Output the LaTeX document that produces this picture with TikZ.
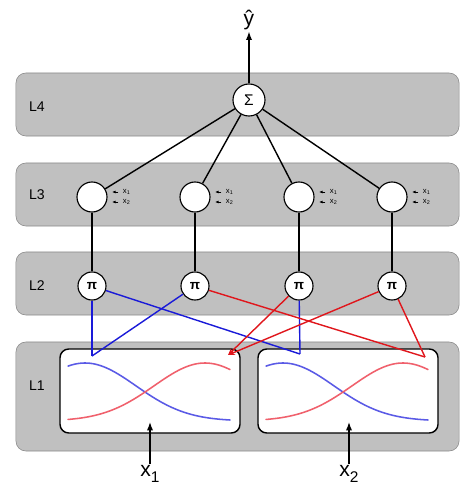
\documentclass[tikz,border=0pt]{standalone}
\usepackage{fontspec}
\setmainfont{Liberation Sans}
\usetikzlibrary{arrows.meta}
\definecolor{layergray}{HTML}{C0C0C0}
\definecolor{layeredge}{HTML}{8A8A8A}
\definecolor{cblue}{HTML}{1A1AD8}
\definecolor{cred}{HTML}{E0161C}
\definecolor{fblue}{HTML}{5A5AE6}
\definecolor{fred}{HTML}{F0606C}
\newcommand{\lowsub}[1]{\raisebox{-0.55ex}{\fontsize{11}{12}\selectfont #1}}

\begin{document}
\begin{tikzpicture}[x=0.025cm, y=-0.025cm,
  layer/.style={draw=layeredge, fill=layergray, rounded corners=0.25cm,
                minimum width=11.075cm, minimum height=1.575cm},
  lname/.style={font=\fontsize{10}{12}\selectfont},
  fuzzbox/.style={draw, line width=1pt, fill=white, rounded corners=0.22cm,
                  minimum width=4.5cm, minimum height=2.1cm},
  rulenode/.style={circle, draw, line width=0.8pt, fill=white, minimum size=0.75cm, inner sep=0pt},
  prodnode/.style={circle, draw, line width=0.8pt, fill=white, minimum size=0.7cm, inner sep=0pt,
                   font=\bfseries\fontsize{9.5}{10}\selectfont},
  tinyin/.style={font=\fontsize{5.5}{6}\selectfont, inner sep=0.5pt, anchor=west},
  wire/.style={line width=1pt},
  bwire/.style={line width=1pt, cblue},
  rwire/.style={line width=1pt, cred},
  arr/.style={-{Latex[length=6pt,width=4.5pt]}, line width=1pt},
  smallarr/.style={-{Latex[length=2.5pt,width=2pt]}, line width=0.5pt, shorten <=2.5pt}
]
  \useasboundingbox (0,0) rectangle (475,492);
  \fill[white] (0,0) rectangle (475,492);

  % Layers
  \node[layer] (l4) at (237.5,104.5) {};
  \node[layer] (l3) at (237.5,194.5) {};
  \node[layer] (l2) at (237.5,283.5) {};
  \node[layer, minimum height=2.725cm] (l1) at (237.5,396.5) {};
  \node[lname] (l4name) at (37,107) {L4};
  \node[lname] (l3name) at (37,195) {L3};
  \node[lname] (l2name) at (37,286) {L2};
  \node[lname] (l1name) at (37,386) {L1};

  % Membership functions
  \node[fuzzbox] (mf1) at (150,391) {};
  \node[fuzzbox] (mf2) at (348,391) {};
  \foreach \dx in {0,198} {
    \draw[fblue, line width=1.1pt, line cap=round]
      plot[domain=68:230, samples=60, smooth] ({\x+\dx}, {421-58*exp(-((\x-85)/72)^2)});
    \draw[fred, line width=1.1pt, line cap=round]
      plot[domain=68:230, samples=60, smooth] ({\x+\dx}, {421-58*exp(-((\x-205)/72)^2)});
  }
  \coordinate (b1) at (92,356);
  \coordinate (r1) at (228,355);
  \coordinate (b2) at (300,354);
  \coordinate (r2) at (425,357);

  % Rule and product nodes
  \node[rulenode] (c1) at (92,197) {};
  \node[rulenode] (c2) at (195,197) {};
  \node[rulenode] (c3) at (299,197) {};
  \node[rulenode] (c4) at (392,197) {};
  \node[prodnode] (p1) at (92,286) {π};
  \node[prodnode] (p2) at (195,286) {π};
  \node[prodnode] (p3) at (299,286) {π};
  \node[prodnode] (p4) at (392,286) {π};

  % Sum
  \node[circle, draw, line width=0.8pt, fill=white, minimum size=0.8cm, inner sep=0pt,
        font=\fontsize{11}{12}\selectfont] (sum) at (249,100) {Σ};
  \node[font=\fontsize{15}{17}\selectfont, inner sep=1pt] (yhat) at (249,20) {ŷ};

  % Inputs of the rule nodes
  \node[tinyin] (c1a) at (122,192) {x\textsubscript{1}};
  \node[tinyin] (c1b) at (122,202) {x\textsubscript{2}};
  \node[tinyin] (c2a) at (225,192) {x\textsubscript{1}};
  \node[tinyin] (c2b) at (225,202) {x\textsubscript{2}};
  \node[tinyin] (c3a) at (329,192) {x\textsubscript{1}};
  \node[tinyin] (c3b) at (329,202) {x\textsubscript{2}};
  \node[tinyin] (c4a) at (422,192) {x\textsubscript{1}};
  \node[tinyin] (c4b) at (422,202) {x\textsubscript{2}};
  \foreach \n in {c1a,c1b,c2a,c2b,c3a,c3b,c4a,c4b}
    \draw[smallarr] (\n.west) -- ++(-10,0);

  % Inputs
  \node[font=\fontsize{15}{18}\selectfont, inner sep=1pt] (x1) at (150,474) {x\lowsub{1}};
  \node[font=\fontsize{15}{18}\selectfont, inner sep=1pt] (x2) at (349,474) {x\lowsub{2}};
  \coordinate (in1) at (150,422);
  \coordinate (in2) at (349,422);

  % Connections
  \draw[bwire] (p1) -- (b1);
  \draw[bwire] (p2) -- (b1);
  \draw[bwire] (p1) -- (b2);
  \draw[bwire] (p3) -- (b2);
  \draw[rwire] (p2) -- (r2);
  \draw[rwire] (p4) -- (r2);
  \draw[rwire, -{Stealth[length=5pt,width=4pt]}] (p3) -- (r1);
  \draw[rwire, -{Stealth[length=5pt,width=4pt]}] (p4) -- (r1);

  \draw[wire] (c1) -- (p1);
  \draw[wire] (c2) -- (p2);
  \draw[wire] (c3) -- (p3);
  \draw[wire] (c4) -- (p4);
  \draw[wire] (sum) -- (c1);
  \draw[wire] (sum) -- (c2);
  \draw[wire] (sum) -- (c3);
  \draw[wire] (sum) -- (c4);

  \draw[arr] (sum) -- (yhat);
  \draw[arr] (x1) -- (in1);
  \draw[arr] (x2) -- (in2);
\end{tikzpicture}
\end{document}
